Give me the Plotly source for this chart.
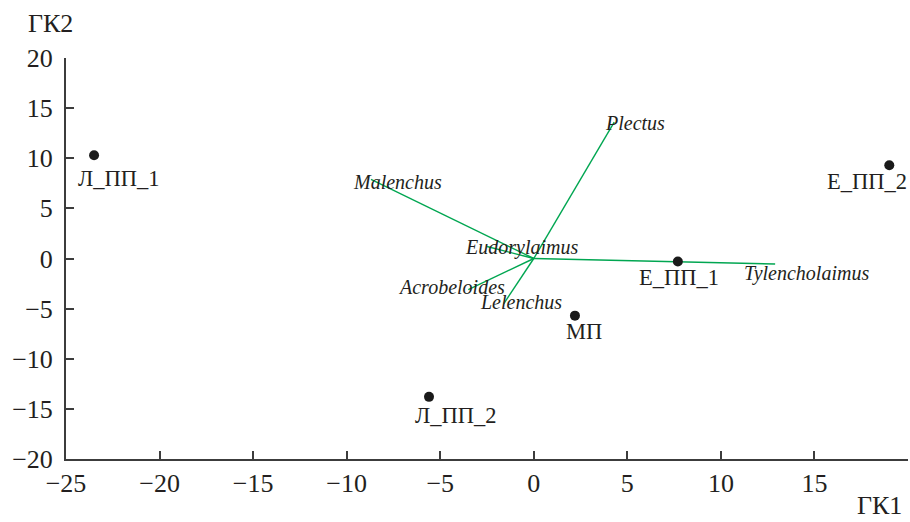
import plotly.graph_objects as go

# Site scores (ordination points)
sites = ["Л_ПП_1", "Л_ПП_2", "Е_ПП_1", "Е_ПП_2", "МП"]
site_x = [-23.5, -5.6, 7.7, 19.0, 2.2]
site_y = [10.3, -13.8, -0.3, 9.3, -5.7]

# Species loadings (vectors from origin)
species = ["Plectus", "Malenchus", "Eudorylaimus", "Acrobeloides", "Lelenchus", "Tylencholaimus"]
sp_x = [4.3, -8.7, -2.5, -3.5, -1.6, 12.9]
sp_y = [13.6, 7.9, 1.2, -3.1, -4.5, -0.55]

x_ticks = [-25, -20, -15, -10, -5, 0, 5, 10, 15]
y_ticks = [-20, -15, -10, -5, 0, 5, 10, 15, 20]

# label offsets in pixels (style)
site_shift = [(25, -23), (27, -19), (1, -16), (-22, -16), (9, -16)]
sp_shift = [(21, -1), (27, -3), (34, -1), (-17, 3), (17, 2), (31, -9)]

FONT = "Liberation Serif"
TXT = "#231f20"
GREEN = "#00a651"
AX = "#3c3c3c"

fig = go.Figure()

for sx, sy in zip(sp_x, sp_y):
    fig.add_trace(go.Scatter(x=[0, sx], y=[0, sy], mode="lines",
                             line=dict(color=GREEN, width=1.4),
                             hoverinfo="skip", showlegend=False))

fig.add_trace(go.Scatter(x=site_x, y=site_y, mode="markers",
                         marker=dict(color="#1a1a1a", size=10),
                         showlegend=False, hoverinfo="skip"))

for name, sx, sy, (dx, dy) in zip(species, sp_x, sp_y, sp_shift):
    fig.add_annotation(x=sx, y=sy, text="<i>" + name + "</i>", showarrow=False,
                       xshift=dx, yshift=dy, xanchor="center", yanchor="middle",
                       font=dict(family=FONT, size=20, color=TXT))

for name, px, py, (dx, dy) in zip(sites, site_x, site_y, site_shift):
    fig.add_annotation(x=px, y=py, text=name, showarrow=False,
                       xshift=dx, yshift=dy, xanchor="center", yanchor="middle",
                       font=dict(family=FONT, size=22.5, color=TXT))

fig.add_annotation(xref="paper", yref="paper", x=-0.018, y=1.087, text="ГК2",
                   showarrow=False, xanchor="center", yanchor="middle",
                   font=dict(family=FONT, size=26, color=TXT))
fig.add_annotation(xref="paper", yref="paper", x=0.966, y=-0.154, text="ГК1",
                   showarrow=False, xanchor="center", yanchor="bottom", borderpad=0,
                   font=dict(family=FONT, size=26, color=TXT))

fig.update_layout(
    width=910, height=522,
    margin=dict(l=66, r=2, t=58, b=63, autoexpand=False),
    paper_bgcolor="white", plot_bgcolor="white",
    font=dict(family=FONT, size=26, color=TXT),
    xaxis=dict(range=[-25, 20], tickvals=x_ticks,
               ticktext=[str(v).replace("-", "\u2212") for v in x_ticks],
               showgrid=False, zeroline=False, showline=True, automargin=False,
               linecolor=AX, linewidth=2, ticks="inside", ticklen=8,
               tickwidth=1.5, tickcolor=AX, ticklabelstandoff=0),
    yaxis=dict(range=[-20, 20], tickvals=y_ticks,
               ticktext=[str(v).replace("-", "\u2212") for v in y_ticks],
               showgrid=False, zeroline=False, showline=True, automargin=False,
               linecolor=AX, linewidth=2, ticks="inside", ticklen=8,
               tickwidth=1.5, tickcolor=AX, ticklabelstandoff=6),
)

fig.write_html("out.html", config={"displayModeBar": False},
               post_script="document.body.style.margin='0px';")
